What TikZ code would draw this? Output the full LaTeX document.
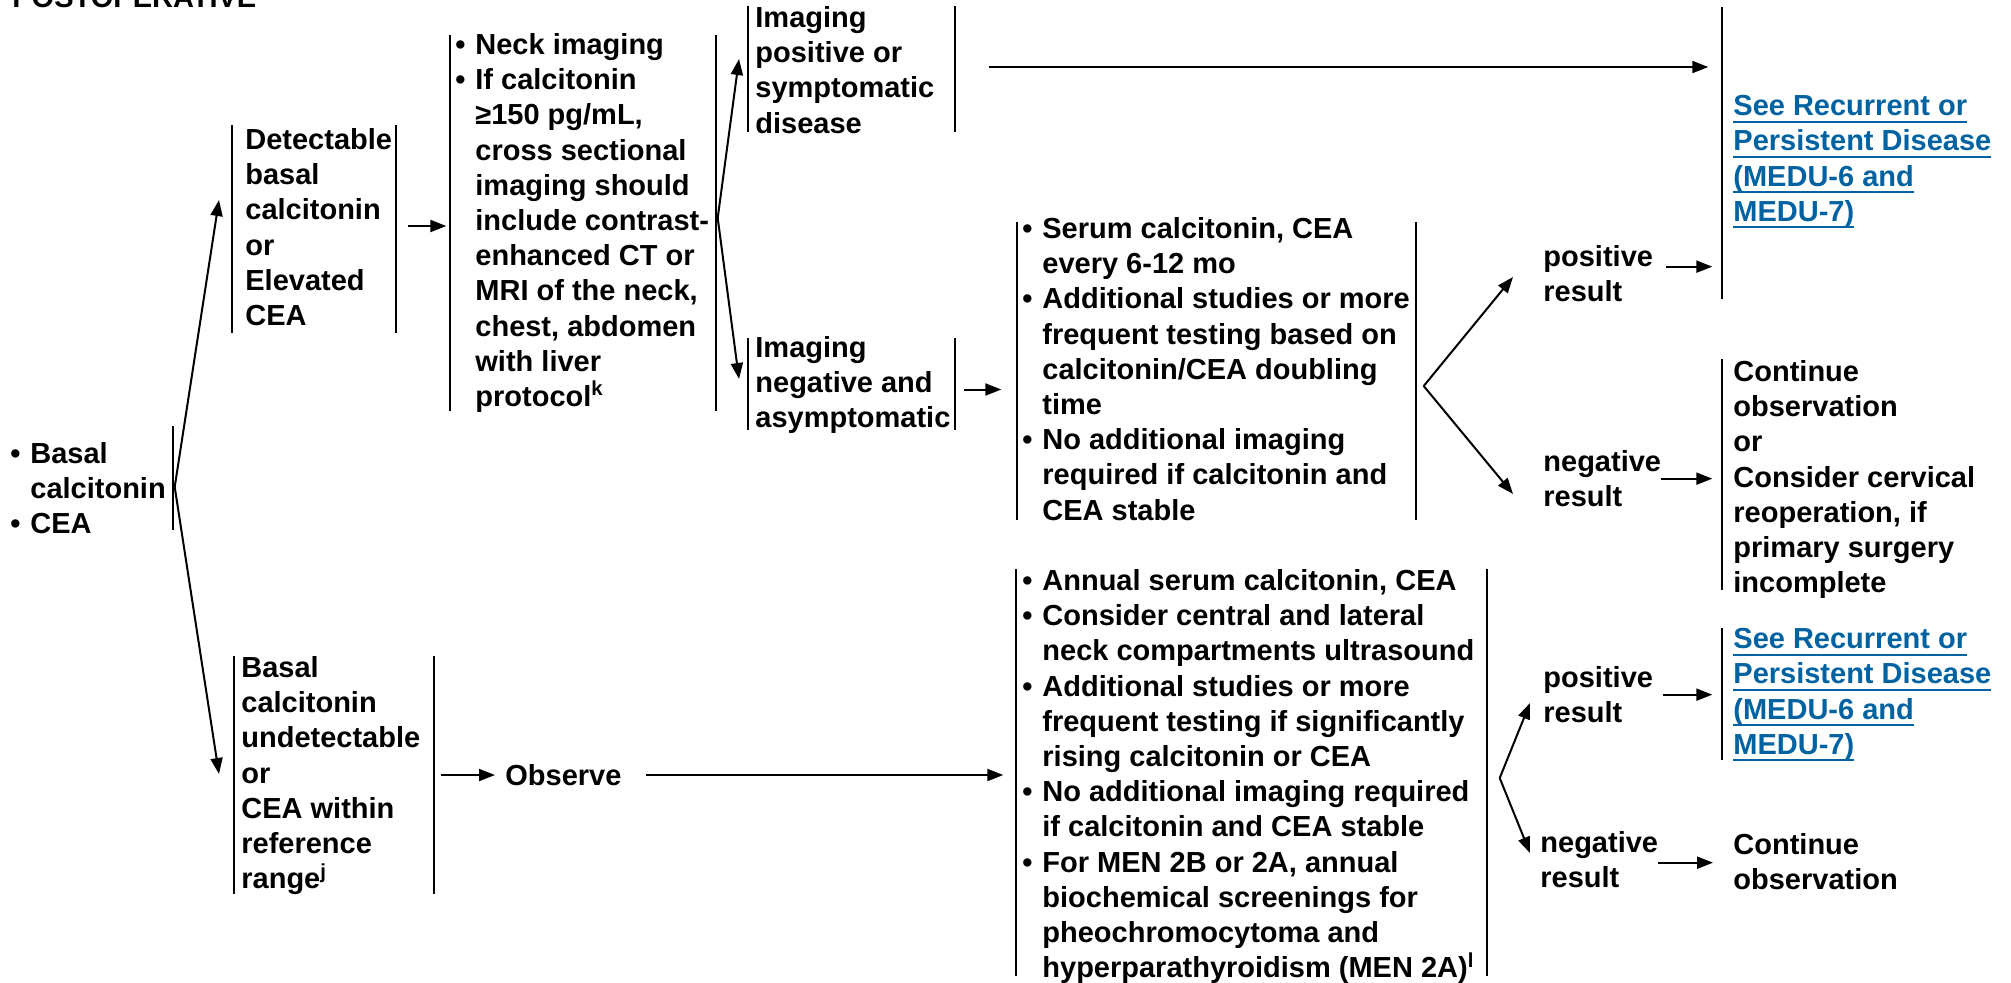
\documentclass[tikz,border=0pt]{standalone}
\usepackage{fontspec}
\setmainfont{Liberation Sans}
\usepackage{tikz}
\usepackage{xcolor}
\usetikzlibrary{arrows.meta,positioning}
\definecolor{ink}{HTML}{000000}
\definecolor{linkblue}{HTML}{0062A0}
\newcommand{\blt}{\makebox[10pt][l]{\textbullet}}
\newcommand{\bind}{\hspace*{10pt}}
\newcommand{\lnk}[1]{\sbox0{#1}\rlap{\rule[-3.5pt]{\wd0}{1pt}}\usebox0}
\tikzset{
  txt/.style={anchor=north west,inner sep=0pt,align=left,text=ink,
              font=\fontsize{14.5pt}{17.6pt}\selectfont\bfseries},
  linktxt/.style={txt,text=linkblue},
  vbar/.style={fill=ink,inner sep=0pt,minimum width=1.3pt},
  arr/.style={-{Triangle[length=8pt,width=6pt]},line width=1pt,draw=ink}
}

\begin{document}
\begin{tikzpicture}[x=0.5pt,y=-0.5pt]
  \useasboundingbox (0,0) rectangle (2011,982);
  % heading, cut by the page edge
  \node[txt,anchor=base west] (title) at (12,7) {POSTOPERATIVE};

  % first column
  \node[txt] (start) at (10,442) {\blt Basal\\\bind calcitonin\\\blt CEA};
  \node[vbar,minimum height=52pt] (b0) at (173,478) {};

  \node[txt] (det) at (245,128) {Detectable\\basal\\calcitonin\\or\\Elevated\\CEA};
  \node[vbar,minimum height=104pt] (detL) at (232,229) {};
  \node[vbar,minimum height=104pt] (detR) at (396,229) {};

  \node[txt] (undet) at (241,656)
    {Basal\\calcitonin\\undetectable\\or\\CEA within\\reference\\range\textsuperscript{j}};
  \node[vbar,minimum height=119pt] (undetL) at (234,775) {};
  \node[vbar,minimum height=119pt] (undetR) at (434,775) {};

  % imaging
  \node[txt] (neck) at (455,33) {\blt Neck imaging\\\blt If calcitonin\\
    \bind ≥150 pg/mL,\\\bind cross sectional\\\bind imaging should\\
    \bind include contrast-\\\bind enhanced CT or\\\bind MRI of the neck,\\
    \bind chest, abdomen\\\bind with liver\\\bind protocol\textsuperscript{k}};
  \node[vbar,minimum height=188pt] (neckL) at (450,223) {};
  \node[vbar,minimum height=188pt] (neckR) at (716,223) {};

  \node[txt,anchor=west] (obs) at (505,775) {Observe};

  \node[txt] (posimg) at (755,6) {Imaging\\positive or\\symptomatic\\disease};
  \node[vbar,minimum height=63pt] (posL) at (748,69) {};
  \node[vbar,minimum height=63pt] (posR) at (955,69) {};

  \node[txt] (negimg) at (755,336) {Imaging\\negative and\\asymptomatic};
  \node[vbar,minimum height=46pt] (negL) at (748,384) {};
  \node[vbar,minimum height=46pt] (negR) at (955,384) {};

  % follow-up
  \node[txt] (serum) at (1022,217) {\blt Serum calcitonin, CEA\\\bind every 6-12 mo\\
    \blt Additional studies or more\\\bind frequent testing based on\\
    \bind calcitonin/CEA doubling\\\bind time\\\blt No additional imaging\\
    \bind required if calcitonin and\\\bind CEA stable};
  \node[vbar,minimum height=149pt] (serumL) at (1017,371) {};
  \node[vbar,minimum height=149pt] (serumR) at (1416,371) {};

  \node[txt] (annual) at (1022,569) {\blt Annual serum calcitonin, CEA\\
    \blt Consider central and lateral\\\bind neck compartments ultrasound\\
    \blt Additional studies or more\\\bind frequent testing if significantly\\
    \bind rising calcitonin or CEA\\\blt No additional imaging required\\
    \bind if calcitonin and CEA stable\\\blt For MEN 2B or 2A, annual\\
    \bind biochemical screenings for\\\bind pheochromocytoma and\\
    \bind hyperparathyroidism (MEN 2A)\textsuperscript{l}};
  \node[vbar,minimum height=203.5pt] (annualL) at (1016,772.5) {};
  \node[vbar,minimum height=203.5pt] (annualR) at (1487,772.5) {};

  % results
  \node[txt] (pos1) at (1543,245) {positive\\result};
  \node[txt] (neg1) at (1543,450) {negative\\result};
  \node[txt] (pos2) at (1543,666) {positive\\result};
  \node[txt] (neg2) at (1540,831) {negative\\result};

  \node[linktxt] (see1) at (1733,95) {\lnk{See Recurrent or}\\\lnk{Persistent Disease}\\
    \lnk{(MEDU-6 and}\\\lnk{MEDU-7)}};
  \node[vbar,minimum height=146pt] (see1L) at (1722,153) {};
  \node[txt] (cont1) at (1733,360) {Continue\\observation\\or\\Consider cervical\\
    reoperation, if\\primary surgery\\incomplete};
  \node[vbar,minimum height=115.5pt] (cont1L) at (1722,474.5) {};
  \node[linktxt] (see2) at (1733,628) {\lnk{See Recurrent or}\\\lnk{Persistent Disease}\\
    \lnk{(MEDU-6 and}\\\lnk{MEDU-7)}};
  \node[vbar,minimum height=66pt] (see2L) at (1722,694) {};
  \node[txt] (cont2) at (1733,833) {Continue\\observation};

  % arrow tips of the forks
  \coordinate (t0a) at (219,200);
  \coordinate (t0b) at (219,774);
  \coordinate (t1a) at (739,59);
  \coordinate (t1b) at (739,379);
  \coordinate (t2a) at (1513,277);
  \coordinate (t2b) at (1513,494);
  \coordinate (t3a) at (1530,703);
  \coordinate (t3b) at (1530,853);

  \draw[arr] ([yshift=-4.5pt]b0.east) -- (t0a);
  \draw[arr] ([yshift=-4.5pt]b0.east) -- (t0b);
  \draw[arr,shorten <=5pt,shorten >=1pt] ([yshift=1.5pt]detR.east) -- ([yshift=1.5pt]detR.east -| neckL.west);
  \draw[arr] ([yshift=2.5pt]neckR.east) -- (t1a);
  \draw[arr] ([yshift=2.5pt]neckR.east) -- (t1b);
  \draw[arr,shorten <=16pt,shorten >=6pt] ([yshift=1pt]posR.east) -- ([yshift=1pt]posR.east -| see1L.west);
  \draw[arr,shorten <=3.5pt,shorten >=7pt] ([yshift=-2.75pt]negR.east) -- ([yshift=-2.75pt]negR.east -| serumL.west);
  \draw[arr] ([shift={(3pt,-7.5pt)}]serumR.east) -- (t2a);
  \draw[arr] ([shift={(3pt,-7.5pt)}]serumR.east) -- (t2b);
  \draw[arr,shorten <=6.5pt,shorten >=4pt] ([yshift=3.5pt]pos1.east) -- ([yshift=3.5pt]pos1.east -| see1L.west);
  \draw[arr,shorten >=4pt] (neg1.east) -- (neg1.east -| cont1L.west);
  \draw[arr,shorten <=2.5pt,shorten >=5pt] (undetR.east) -- (obs.west);
  \draw[arr,shorten <=12pt,shorten >=5.5pt] (obs.east) -- (obs.east -| annualL.west);
  \draw[arr] ([shift={(5.5pt,-2.75pt)}]annualR.east) -- (t3a);
  \draw[arr] ([shift={(5.5pt,-2.75pt)}]annualR.east) -- (t3b);
  \draw[arr,shorten <=5pt,shorten >=4pt] (pos2.east) -- (pos2.east -| see2L.west);
  \draw[arr,shorten >=10pt] ([yshift=-1.5pt]neg2.east) -- ([yshift=-1.5pt]neg2.east -| cont2.west);
\end{tikzpicture}
\end{document}
